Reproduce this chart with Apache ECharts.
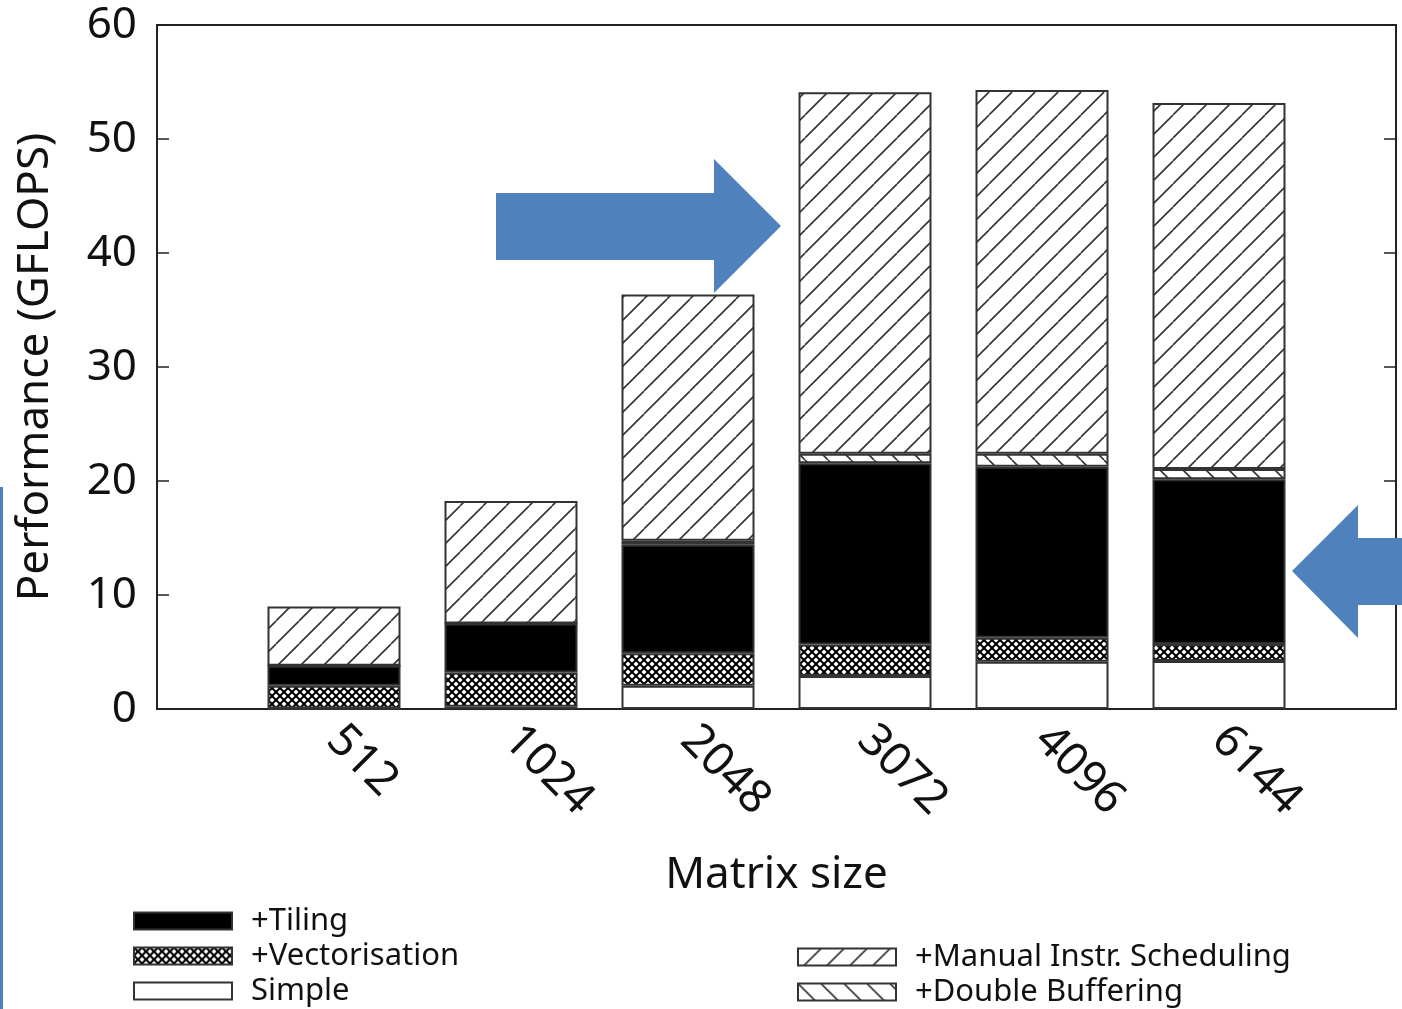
<!DOCTYPE html>
<html>
<head>
<meta charset="utf-8">
<script src="https://cdn.jsdelivr.net/npm/echarts@6/dist/echarts.min.js"></script>
<style>
  html, body { margin: 0; padding: 0; background: #fff; }
  #chart { width: 1402px; height: 1009px; }
</style>
</head>
<body>
<div id="chart"></div>
<script>
// ====== data ======
var sizes = ['', '512', '1024', '2048', '3072', '4096', '6144', ''];
var simple = [null, 0.05, 0.2, 2.05, 2.9, 4.15, 4.2, null];
var vectorisation = [null, 2.0, 3.0, 2.85, 2.75, 2.1, 1.5, null];
var tiling = [null, 1.75, 4.3, 9.5, 15.9, 15.0, 14.45, null];
var doubleBuffering = [null, 0, 0, 0.35, 0.85, 1.15, 0.9, null];
var manualSched = [null, 5.2, 10.75, 21.6, 31.7, 31.9, 32.1, null];
var yTicks = [0, 10, 20, 30, 40, 50, 60];

var FONT = 'Noto Sans';
var INK = '#111';
var EDGE = '#333';

// ====== patterns (canvas) ======
function hatch(dir) { // dir 1 = '/', -1 = '\'
    var s = 23;
    var c = document.createElement('canvas');
    c.width = s; c.height = s;
    var ctx = c.getContext('2d');
    ctx.fillStyle = '#fff';
    ctx.fillRect(0, 0, s, s);
    ctx.strokeStyle = '#333';
    ctx.lineWidth = 1.6;
    for (var k = -1; k <= 1; k++) {
        ctx.beginPath();
        if (dir > 0) {
            ctx.moveTo(k * s, s); ctx.lineTo(k * s + s, 0);
        } else {
            ctx.moveTo(k * s, 0); ctx.lineTo(k * s + s, s);
        }
        ctx.stroke();
    }
    return c;
}
function cross() {
    var s = 8;
    var c = document.createElement('canvas');
    c.width = s; c.height = s;
    var ctx = c.getContext('2d');
    ctx.fillStyle = '#fff';
    ctx.fillRect(0, 0, s, s);
    ctx.strokeStyle = '#000';
    ctx.lineWidth = 2;
    for (var k = -1; k <= 1; k++) {
        ctx.beginPath(); ctx.moveTo(k * s, s); ctx.lineTo(k * s + s, 0); ctx.stroke();
        ctx.beginPath(); ctx.moveTo(k * s, 0); ctx.lineTo(k * s + s, s); ctx.stroke();
    }
    return c;
}

var chart = echarts.init(document.getElementById('chart'));

function bar(name, data, fill) {
    return {
        name: name,
        type: 'bar',
        stack: 'total',
        barWidth: 133,
        data: data,
        itemStyle: { color: fill, borderColor: EDGE, borderWidth: 2 },
        emphasis: { disabled: true }
    };
}

var legendText = { fontFamily: FONT, fontSize: 31, color: INK, lineHeight: 34, padding: [0, 0, 0, 14] };

var option = {
    backgroundColor: '#fff',
    animation: false,
    textStyle: { fontFamily: FONT },
    grid: {
        left: 157, right: 6, top: 25, bottom: 300,
        show: true, borderColor: '#222', borderWidth: 2, backgroundColor: 'transparent'
    },
    legend: [{
        data: ['+Tiling', '+Vectorisation', 'Simple'],
        orient: 'vertical',
        left: 133, top: 904, height: 105,
        padding: 0,
        itemWidth: 98, itemHeight: 17, itemGap: 1,
        icon: 'rect',
        selectedMode: false,
        textStyle: legendText
    }, {
        data: ['+Manual Instr. Scheduling', '+Double Buffering'],
        orient: 'vertical',
        left: 797, top: 940, height: 69,
        padding: 0,
        itemWidth: 98, itemHeight: 17, itemGap: 1,
        icon: 'rect',
        selectedMode: false,
        textStyle: legendText
    }],
    xAxis: {
        type: 'category',
        data: sizes,
        boundaryGap: false,
        name: 'Matrix size',
        nameLocation: 'middle',
        nameGap: 144,
        nameTextStyle: { fontFamily: FONT, fontSize: 44, color: INK },
        axisLine: { lineStyle: { color: '#222', width: 2 } },
        axisTick: { show: false },
        axisLabel: { interval: 0, rotate: -45, fontSize: 46, color: INK, margin: 24, fontFamily: FONT }
    },
    yAxis: [{
        type: 'value',
        min: yTicks[0], max: yTicks[yTicks.length - 1], interval: 10,
        name: 'Performance (GFLOPS)',
        nameLocation: 'middle',
        nameGap: 100,
        nameTextStyle: { fontFamily: FONT, fontSize: 44, color: INK },
        splitLine: { show: false },
        axisLine: { show: true, lineStyle: { color: '#222', width: 2 } },
        axisTick: { show: true, inside: true, length: 12, lineStyle: { color: '#222', width: 1.5 } },
        axisLabel: { fontSize: 44, color: INK, margin: 20, fontFamily: FONT }
    }, {
        type: 'value',
        position: 'right',
        min: yTicks[0], max: yTicks[yTicks.length - 1], interval: 10,
        splitLine: { show: false },
        axisLine: { show: true, lineStyle: { color: '#222', width: 2 } },
        axisTick: { show: true, inside: true, length: 12, lineStyle: { color: '#222', width: 1.5 } },
        axisLabel: { show: false }
    }],
    series: [
        bar('Simple', simple, '#fff'),
        bar('+Vectorisation', vectorisation, { image: cross(), repeat: 'repeat' }),
        bar('+Tiling', tiling, '#000'),
        bar('+Double Buffering', doubleBuffering, { image: hatch(-1), repeat: 'repeat' }),
        bar('+Manual Instr. Scheduling', manualSched, { image: hatch(1), repeat: 'repeat' })
    ],
    graphic: [
        { // right-pointing arrow
            type: 'polygon', z: 100,
            shape: { points: [[496, 193], [714, 193], [714, 159], [781, 226], [714, 293], [714, 260], [496, 260]] },
            style: { fill: '#4F81BD' }
        },
        { // left-pointing arrow
            type: 'polygon', z: 100,
            shape: { points: [[1402, 538], [1358, 538], [1358, 505], [1292, 571], [1358, 638], [1358, 605], [1402, 605]] },
            style: { fill: '#4F81BD' }
        },
        { // stray edge line at far left
            type: 'rect', z: 100,
            shape: { x: 0, y: 487, width: 3, height: 522 },
            style: { fill: '#4F81BD' }
        }
    ]
};

chart.setOption(option);
</script>
</body>
</html>
